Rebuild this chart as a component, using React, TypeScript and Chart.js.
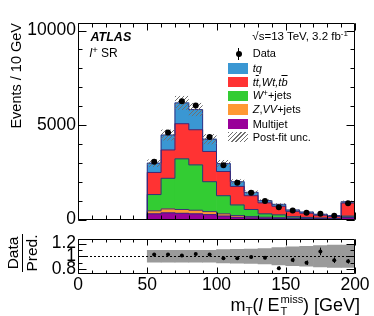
import React, { useEffect, useRef } from 'react';
import { Chart, registerables } from 'chart.js';
Chart.register(...registerables);

// ---------- data ----------
const binLow = [50, 60, 70, 80, 90, 100, 110, 120, 130, 140, 150, 160, 170, 180, 190];
const binWidth = 10;
const multijet = [300, 350, 330, 300, 260, 180, 120, 90, 70, 60, 50, 40, 30, 25, 100];
const zvvJets = [160, 210, 200, 190, 160, 120, 90, 70, 50, 40, 30, 20, 20, 15, 30];
const wJets = [860, 1620, 2680, 2400, 1580, 960, 560, 370, 180, 145, 70, 50, 30, 20, 50];
const topBkg = [1170, 1500, 1860, 1860, 1600, 1280, 980, 730, 580, 455, 280, 220, 145, 100, 690];
const tq = [490, 790, 1100, 1070, 650, 420, 250, 180, 120, 105, 75, 65, 55, 50, 70];
const dataCounts = [3060, 4600, 6260, 6030, 4370, 2870, 1940, 1420, 980, 652, 476, 355, 301, 197, 865];
const postFitUnc = [200, 290, 370, 350, 270, 190, 130, 95, 65, 55, 40, 32, 25, 20, 60];
const ratioValues = [1.027, 1.027, 1.013, 1.036, 1.027, 0.969, 0.969, 0.987, 0.978, 0.81, 0.942, 0.898, 1.076, 0.938, 0.92];
const ratioErr = [0.012, 0.01, 0.009, 0.009, 0.01, 0.013, 0.016, 0.02, 0.025, 0.03, 0.035, 0.035, 0.06, 0.045, 0.035];
const ratioBand = [0.095, 0.095, 0.095, 0.095, 0.095, 0.105, 0.11, 0.115, 0.12, 0.135, 0.15, 0.155, 0.17, 0.175, 0.175];
const mainYTicks = [0, 5000, 10000];
const ratioYTicks = [0.8, 1, 1.2];
const xTicks = [0, 50, 100, 150, 200];

const FONT = "'Liberation Sans', Arial, Helvetica, sans-serif";
const COLORS = {
  tq: '#3a97d3',
  top: '#ff3333',
  wjets: '#33cc33',
  zvv: '#ff9933',
  multijet: '#990099',
  band: '#9a9a9a',
  outline: 'rgba(45,40,125,0.9)',
  hatch: '#707070',
};

const centers = binLow.map((l) => l + binWidth / 2);

function range(a: number, b: number, s: number) {
  const out: number[] = [];
  for (let v = a; v <= b + 1e-9; v += s) out.push(+v.toFixed(6));
  return out;
}

function makeHatch(ctx: CanvasRenderingContext2D) {
  const c = document.createElement('canvas');
  c.width = 4; c.height = 4;
  const g = c.getContext('2d')!;
  g.strokeStyle = COLORS.hatch;
  g.lineWidth = 1;
  g.beginPath(); g.moveTo(0, 4); g.lineTo(4, 0); g.stroke();
  g.beginPath(); g.moveTo(-1, 1); g.lineTo(1, -1); g.stroke();
  g.beginPath(); g.moveTo(3, 5); g.lineTo(5, 3); g.stroke();
  return ctx.createPattern(c, 'repeat')!;
}

function drawFrame(chart: any, cfg: { yMajor: number[]; yMinor: number[]; xMajor: number[]; xMinor: number[]; xMaj: number; xMin: number; yMaj: number; yMin: number }) {
  const { ctx, chartArea: a, scales } = chart;
  const x = scales.x, y = scales.y;
  ctx.save();
  ctx.strokeStyle = '#000';
  ctx.lineWidth = 1;
  const L = Math.round(a.left) + 0.5, R = Math.round(a.right) - 0.5;
  const T = Math.round(a.top) + 0.5, B = Math.round(a.bottom) - 0.5;
  ctx.beginPath();
  ctx.rect(L, T, R - L, B - T);
  ctx.stroke();
  ctx.beginPath();
  const xt = (vals: number[], len: number) => vals.forEach((v) => {
    const p = Math.round(x.getPixelForValue(v)) + 0.5;
    ctx.moveTo(p, B); ctx.lineTo(p, B - len);
    ctx.moveTo(p, T); ctx.lineTo(p, T + len);
  });
  const yt = (vals: number[], len: number) => vals.forEach((v) => {
    const p = Math.round(y.getPixelForValue(v)) + 0.5;
    ctx.moveTo(L, p); ctx.lineTo(L + len, p);
    ctx.moveTo(R, p); ctx.lineTo(R - len, p);
  });
  xt(cfg.xMinor, cfg.xMin); xt(cfg.xMajor, cfg.xMaj);
  yt(cfg.yMinor, cfg.yMin); yt(cfg.yMajor, cfg.yMaj);
  ctx.stroke();
  ctx.restore();
}

const DATA_INDEX = 5;

const mainPlugin = {
  id: 'mainDecor',
  beforeDatasetDraw(chart: any, args: any) {
    if (args.index !== DATA_INDEX) return;
    const { ctx, chartArea: a, scales } = chart;
    ctx.save();
    ctx.beginPath();
    ctx.rect(a.left, a.top, a.right - a.left, a.bottom - a.top);
    ctx.clip();
    for (let d = 0; d < 5; d++) {
      const els = chart.getDatasetMeta(d).data;
      ctx.beginPath();
      els.forEach((el: any, i: number) => {
        const { x, y, width } = el.getProps(['x', 'y', 'width'], true);
        const l = x - width / 2, r = x + width / 2;
        if (i === 0) { ctx.moveTo(l, a.bottom); }
        ctx.lineTo(l, y);
        ctx.lineTo(r, y);
        if (i === els.length - 1) ctx.lineTo(r, a.bottom);
      });
      ctx.strokeStyle = COLORS.outline;
      ctx.lineWidth = 1;
      ctx.stroke();
    }
    ctx.fillStyle = makeHatch(ctx);
    const xs = scales.x, ys = scales.y;
    binLow.forEach((lo, i) => {
      const total = multijet[i] + zvvJets[i] + wJets[i] + topBkg[i] + tq[i];
      const x0 = xs.getPixelForValue(lo), x1 = xs.getPixelForValue(lo + binWidth);
      const y0 = ys.getPixelForValue(total + postFitUnc[i]);
      const y1 = ys.getPixelForValue(total - postFitUnc[i]);
      ctx.fillRect(x0, y0, x1 - x0, y1 - y0);
    });
    ctx.restore();
  },
  afterDraw(chart: any) {
    drawFrame(chart, {
      yMajor: mainYTicks, yMinor: range(0, 10000, 1000),
      xMajor: xTicks, xMinor: range(0, 200, 10),
      xMaj: 7, xMin: 4, yMaj: 8, yMin: 4,
    });
  },
};

const ratioPlugin = {
  id: 'ratioDecor',
  beforeDatasetDraw(chart: any, args: any) {
    if (args.index !== 1) return;
    const { ctx, chartArea: a, scales } = chart;
    const ys = scales.y, xs = scales.x;
    ctx.save();
    ctx.strokeStyle = '#000';
    ctx.lineWidth = 1;
    ctx.setLineDash([2, 2]);
    const p = Math.round(ys.getPixelForValue(1)) + 0.5;
    ctx.beginPath(); ctx.moveTo(a.left, p); ctx.lineTo(a.right, p); ctx.stroke();
    ctx.setLineDash([]);
    ctx.beginPath();
    centers.forEach((c, i) => {
      const px = Math.round(xs.getPixelForValue(c)) + 0.5;
      ctx.moveTo(px, ys.getPixelForValue(ratioValues[i] - ratioErr[i]));
      ctx.lineTo(px, ys.getPixelForValue(ratioValues[i] + ratioErr[i]));
    });
    ctx.stroke();
    ctx.restore();
  },
  afterDraw(chart: any) {
    drawFrame(chart, {
      yMajor: ratioYTicks, yMinor: range(0.8, 1.2, 0.1),
      xMajor: xTicks, xMinor: range(0, 200, 10),
      xMaj: 6, xMin: 3, yMaj: 8, yMin: 4,
    });
  },
};

const tickFont = { family: FONT, size: 17.5 };

function T(props: { left?: number; right?: number; cy: number; size: number; children: any; style?: any }) {
  const { left, right, cy, size, children, style } = props;
  return (
    <div style={{
      position: 'absolute', left, right, top: cy - size * 0.49, fontSize: size, lineHeight: 1,
      fontFamily: FONT, whiteSpace: 'nowrap', color: '#000', ...style,
    }}>{children}</div>
  );
}

const legendRows = [
  { key: 'tq', cy: 68.5, color: COLORS.tq, label: <i>tq</i> },
  { key: 'top', cy: 82, color: COLORS.top, label: <i>t<span style={{ textDecoration: 'overline' }}>t</span>,Wt,t<span style={{ textDecoration: 'overline' }}>b</span></i> },
  { key: 'w', cy: 95.8, color: COLORS.wjets, label: <span><i>W</i><span style={{ fontSize: '0.75em', position: 'relative', top: '-0.45em' }}>+</span>+jets</span> },
  { key: 'z', cy: 109.5, color: COLORS.zvv, label: <span><i>Z</i>,<i>VV</i>+jets</span> },
  { key: 'mj', cy: 124, color: COLORS.multijet, label: 'Multijet' },
];

const subSup = (sup: string, sub: string, w: string) => (
  <span style={{ position: 'relative', display: 'inline-block', width: w, height: 0, verticalAlign: 'baseline' }}>
    <span style={{ position: 'absolute', left: '0.08em', top: '-1.56em', fontSize: '0.62em', lineHeight: 1 }}>{sup}</span>
    <span style={{ position: 'absolute', left: '0.08em', top: '-0.44em', fontSize: '0.62em', lineHeight: 1 }}>{sub}</span>
  </span>
);

export default function App() {
  const mainRef = useRef<HTMLCanvasElement>(null);
  const ratioRef = useRef<HTMLCanvasElement>(null);

  useEffect(() => {
    Chart.defaults.font.family = FONT;
    Chart.defaults.color = '#000';
    const mk = (arr: number[], label: string, color: string) => ({
      type: 'bar' as const,
      label,
      data: centers.map((x, i) => ({ x, y: arr[i] })),
      backgroundColor: color,
      borderWidth: 0,
      stack: 'mc',
      yAxisID: 'y',
      barPercentage: 1,
      categoryPercentage: 1,
    });
    const main = new Chart(mainRef.current!, {
      type: 'bar',
      data: {
        datasets: [
          mk(multijet, 'Multijet', COLORS.multijet),
          mk(zvvJets, 'Z,VV+jets', COLORS.zvv),
          mk(wJets, 'W+jets', COLORS.wjets),
          mk(topBkg, 'tt,Wt,tb', COLORS.top),
          mk(tq, 'tq', COLORS.tq),
          {
            type: 'line' as const,
            label: 'Data',
            data: centers.map((x, i) => ({ x, y: dataCounts[i] })),
            showLine: false,
            pointRadius: 3,
            pointHoverRadius: 3,
            pointBackgroundColor: '#000',
            pointBorderWidth: 0,
            yAxisID: 'y2',
            order: -1,
          } as any,
        ],
      },
      options: {
        responsive: false,
        animation: false,
        events: [],
        layout: { padding: { left: 0, right: 19, top: 23, bottom: 11 } },
        plugins: { legend: { display: false }, tooltip: { enabled: false } },
        scales: {
          x: { type: 'linear', min: 0, max: 200, display: false, offset: false },
          y: {
            stacked: true, min: 0, max: 10400,
            grid: { display: false, drawTicks: false },
            border: { display: false },
            afterBuildTicks: (s: any) => { s.ticks = mainYTicks.map((v) => ({ value: v })); },
            afterFit: (s: any) => { s.width = 78; },
            ticks: { font: tickFont, color: '#000', padding: 2, autoSkip: false, callback: (v: any) => String(v) },
            title: { display: true, text: 'Events / 10 GeV', align: 'end', font: { family: FONT, size: 14.5 }, color: '#000', padding: { top: 8, bottom: 0 } },
          },
          y2: { display: false, min: 0, max: 10400 },
        },
      } as any,
      plugins: [mainPlugin],
    });

    const ratio = new Chart(ratioRef.current!, {
      type: 'bar',
      data: {
        datasets: [
          {
            label: 'Post-fit unc.',
            data: centers.map((x, i) => ({ x, y: [1 - ratioBand[i], 1 + ratioBand[i]] })),
            backgroundColor: COLORS.band,
            borderWidth: 0,
            barPercentage: 1,
            categoryPercentage: 1,
          } as any,
          {
            type: 'line' as const,
            label: 'Data/Pred.',
            data: centers.map((x, i) => ({ x, y: ratioValues[i] })),
            showLine: false,
            pointRadius: 2,
            pointHoverRadius: 2,
            pointBackgroundColor: '#000',
            pointBorderWidth: 0,
            order: -1,
          } as any,
        ],
      },
      options: {
        responsive: false,
        animation: false,
        events: [],
        layout: { padding: { left: 0, right: 19, top: 6, bottom: 0 } },
        plugins: { legend: { display: false }, tooltip: { enabled: false } },
        scales: {
          x: {
            type: 'linear', min: 0, max: 200, offset: false,
            grid: { display: false, drawTicks: false },
            border: { display: false },
            afterBuildTicks: (s: any) => { s.ticks = xTicks.map((v) => ({ value: v })); },
            afterFit: (s: any) => { s.height = 42; },
            ticks: { font: tickFont, color: '#000', padding: 1, maxRotation: 0, autoSkip: false, callback: (v: any) => String(v) },
          },
          y: {
            min: 0.72, max: 1.28,
            grid: { display: false, drawTicks: false },
            border: { display: false },
            afterBuildTicks: (s: any) => { s.ticks = ratioYTicks.map((v) => ({ value: v })); },
            afterFit: (s: any) => { s.width = 78; },
            ticks: { font: tickFont, color: '#000', padding: 2, autoSkip: false, callback: (v: any) => String(v) },
          },
        },
      } as any,
      plugins: [ratioPlugin],
    });

    return () => { main.destroy(); ratio.destroy(); };
  }, []);

  const hatchCss = `repeating-linear-gradient(135deg, ${COLORS.hatch} 0 1px, transparent 1px 3px)`;

  return (
    <div style={{ position: 'absolute', left: 0, top: 0, width: 374, height: 316, background: '#fff', overflow: 'hidden' }}>
      <canvas ref={mainRef} width={374} height={232} style={{ position: 'absolute', left: 0, top: 0, width: 374, height: 232 }} />
      <canvas ref={ratioRef} width={374} height={90} style={{ position: 'absolute', left: 0, top: 226, width: 374, height: 90 }} />

      <T left={90.5} cy={37.3} size={12.5} style={{ fontWeight: 'bold', fontStyle: 'italic' }}>ATLAS</T>
      <T left={89.5} cy={52.7} size={12}><i>l</i><span style={{ fontSize: '0.8em', position: 'relative', top: '-0.4em' }}>+</span> SR</T>
      <T right={26} cy={37} size={11.5}>√s=13 TeV, 3.2 fb<span style={{ fontSize: '0.7em', position: 'relative', top: '-0.5em' }}>-1</span></T>

      {/* legend */}
      <div style={{ position: 'absolute', left: 238, top: 47.5, width: 1, height: 12, background: '#000' }} />
      <div style={{ position: 'absolute', left: 235.5, top: 50.5, width: 6, height: 6, borderRadius: 3, background: '#000' }} />
      <T left={252.7} cy={53.3} size={11}>Data</T>
      {legendRows.map((r) => (
        <React.Fragment key={r.key}>
          <div style={{ position: 'absolute', left: 228.3, top: r.cy - 5.2, width: 20, height: 10.4, background: r.color }} />
          <T left={252.7} cy={r.cy} size={11}>{r.label}</T>
        </React.Fragment>
      ))}
      <div style={{ position: 'absolute', left: 228.3, top: 137.3 - 5.2, width: 20, height: 10.4, background: hatchCss }} />
      <T left={252.7} cy={137.3} size={11}>Post-fit unc.</T>

      {/* ratio y title */}
      <div style={{
        position: 'absolute', left: 22, top: 253, transform: 'translate(-50%, -50%) rotate(-90deg)',
        display: 'flex', flexDirection: 'column', alignItems: 'center', fontFamily: FONT, fontSize: 15.5, lineHeight: 1, color: '#000',
      }}>
        <div style={{ paddingBottom: 1 }}>Data</div>
        <div style={{ width: 38, height: 1, background: '#000' }} />
        <div style={{ paddingTop: 1 }}>Pred.</div>
      </div>

      {/* x title */}
      <T right={14} cy={305} size={18}>
        m<span style={{ fontSize: '0.65em', position: 'relative', top: '0.35em' }}>T</span>(<i>l</i> E{subSup('miss', 'T', '1.3em')}) [GeV]
      </T>
    </div>
  );
}
